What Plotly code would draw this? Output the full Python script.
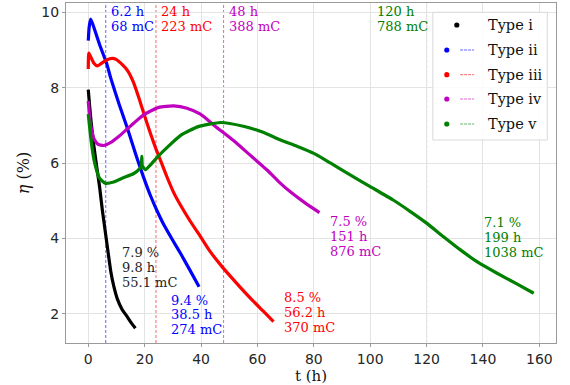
import plotly.graph_objects as go

# ---------------- data ----------------
t_i = [0, 0.5, 1, 2, 3, 4, 5, 6, 7, 8, 9, 10.3, 12, 13.8, 15.2, 16.7]
eta_i = [7.95, 7.5, 7.1, 6.45, 5.9, 5.38, 4.75, 4.2, 3.65, 3.12, 2.75, 2.4, 2.12, 1.93, 1.77, 1.62]

t_ii = [0, 0.3, 0.85, 2, 4, 6.5, 8, 11, 14, 17, 19.5, 22, 24.5, 27, 30, 33, 36, 39.3]
eta_ii = [9.25, 9.6, 9.82, 9.6, 9.15, 8.65, 8.25, 7.55, 6.9, 6.2, 5.65, 5.15, 4.72, 4.34, 3.95, 3.57, 3.17, 2.72]

t_iii = [0, 0.2, 1, 2, 3.2, 4.5, 6.5, 8.5, 10, 12, 14, 16, 18, 20, 22, 24, 26, 28, 30.3, 33, 36,
         39.8, 43, 47.5, 51, 54, 58, 62, 65.7]
eta_iii = [8.5, 8.92, 8.8, 8.65, 8.58, 8.64, 8.74, 8.78, 8.75, 8.62, 8.45, 8.15, 7.72, 7.25, 6.8, 6.38,
           6.0, 5.62, 5.22, 4.85, 4.48, 4.05, 3.68, 3.25, 2.95, 2.7, 2.38, 2.08, 1.8]

t_iv = [0, 0.5, 1, 2, 3.5, 5.5, 8, 11, 14, 16.1, 20, 25, 30.3, 35, 39.8, 45, 51.5, 57, 63.4, 68, 72, 77, 82]
eta_iv = [7.65, 7.2, 6.95, 6.65, 6.5, 6.47, 6.55, 6.72, 6.92, 7.06, 7.3, 7.48, 7.52, 7.46, 7.3, 6.98,
          6.6, 6.24, 5.82, 5.48, 5.22, 4.94, 4.69]

t_v = [0, 1, 2, 3, 4, 6, 9, 12, 16, 17.5, 18.7, 19.0, 19.2, 20.3, 22, 25, 28, 33, 39, 47, 55, 62, 68,
       74, 80, 86, 92, 100, 108, 114, 120, 126, 132, 138, 145, 152, 158]
eta_v = [7.3, 6.6, 6.1, 5.8, 5.6, 5.47, 5.5, 5.6, 5.72, 5.8, 5.9, 6.18, 5.92, 5.83, 5.95, 6.2, 6.42,
         6.75, 6.97, 7.08, 6.98, 6.82, 6.62, 6.45, 6.26, 6.0, 5.73, 5.38, 5.03, 4.73, 4.41, 4.05, 3.7,
         3.38, 3.08, 2.8, 2.55]

names = ["Type i", "Type ii", "Type iii", "Type iv", "Type v"]
colors = ["#000000", "#0000ff", "#ff0000", "#bf00bf", "#008000"]
series_t = [t_i, t_ii, t_iii, t_iv, t_v]
series_eta = [eta_i, eta_ii, eta_iii, eta_iv, eta_v]

# vertical markers (types ii..v)
vline_t = [6.2, 24, 48, 120]
vline_lines = [["6.2 h", "68 mC"], ["24 h", "223 mC"], ["48 h", "388 mC"], ["120 h", "788 mC"]]

# end-of-curve labels
end_lines = [
    ["7.9 %", "9.8 h", "55.1 mC"],
    ["9.4 %", "38.5 h", "274 mC"],
    ["8.5 %", "56.2 h", "370 mC"],
    ["7.5 %", "151 h", "876 mC"],
    ["7.1 %", "199 h", "1038 mC"],
]
end_pos = [(11.4, 3.63), (28.5, 2.37), (68.7, 2.43), (85.2, 4.45), (139.7, 4.43)]

X_RANGE = [-7.9, 165.9]
Y_RANGE = [1.23, 10.25]

SERIF = "DejaVu Serif"
SANS = "DejaVu Sans"

fig = go.Figure()
for name, c, t, e in zip(names, colors, series_t, series_eta):
    fig.add_trace(go.Scatter(x=t, y=e, mode="lines", name=name,
                             line=dict(color=c, width=3.2, shape="spline", smoothing=0.5),
                             showlegend=False))

# vertical dashed lines + top labels
for k, (tv, lines) in enumerate(zip(vline_t, vline_lines)):
    c = colors[k + 1]
    fig.add_shape(type="line", xref="x", yref="paper", x0=tv, x1=tv, y0=0, y1=1,
                  line=dict(color=c, width=1, dash="3px,2px"), opacity=0.6, layer="below")
    right = (k == 3)
    for j, txt in enumerate(lines):
        fig.add_annotation(x=101.7 if right else tv, y=10.02 - j * 0.39, xref="x", yref="y", text=txt,
                           showarrow=False, xanchor="left",
                           xshift=0 if right else 3, yanchor="middle",
                           font=dict(family=SERIF, size=13, color=c))

# end labels
LSP = 0.395
for k, (lines, (x0, y0)) in enumerate(zip(end_lines, end_pos)):
    c = "#222222" if k == 0 else colors[k]
    for j, txt in enumerate(lines):
        fig.add_annotation(x=x0, y=y0 - j * LSP, xref="x", yref="y", text=txt,
                           showarrow=False, xanchor="left", yanchor="middle",
                           font=dict(family=SERIF, size=13, color=c))

# manual legend (matplotlib style: dot + short dashed line)
W, H = 570, 385
L, R, T, B = 65.5, 556.0, 3.0, 343.0
def px(xp):
    return (xp - L) / (R - L)
def py(yp):
    return (B - yp) / (B - T)

fig.add_shape(type="rect", xref="paper", yref="paper", x0=px(432.7), x1=px(547.3),
              y0=py(140), y1=py(12.3), line=dict(color="#d9d9d9", width=1),
              fillcolor="rgba(255,255,255,0.85)")
leg_y = [25, 50, 74.7, 99, 124]
for k, (name, c, yy) in enumerate(zip(names, colors, leg_y)):
    cx = 456.7 if k == 0 else 446.7
    r = 2.6
    fig.add_shape(type="circle", xref="paper", yref="paper",
                  x0=px(cx - r), x1=px(cx + r), y0=py(yy + r), y1=py(yy - r),
                  line=dict(color=c, width=0), fillcolor=c)
    if k > 0:
        fig.add_shape(type="line", xref="paper", yref="paper",
                      x0=px(460), x1=px(474), y0=py(yy), y1=py(yy),
                      line=dict(color=c, width=1, dash="3px,1px"), opacity=0.6)
    fig.add_annotation(x=px(486), y=py(yy), xref="paper", yref="paper", text=name,
                       showarrow=False, xanchor="left", yanchor="middle",
                       font=dict(family=SERIF, size=14.5, color="#111111"))

axis_common = dict(showgrid=True, gridcolor="#e3e3e3", gridwidth=1,
                   showline=True, linecolor="#9a9a9a", linewidth=1, mirror=True,
                   ticks="outside", ticklen=3, tickcolor="#9a9a9a", zeroline=False,
                   tickfont=dict(family=SANS, size=14, color="#262626"))

fig.update_layout(
    width=W, height=H,
    margin=dict(l=L, r=W - R, t=T, b=H - B),
    plot_bgcolor="white", paper_bgcolor="white",
    xaxis=dict(range=X_RANGE, tickvals=[0, 20, 40, 60, 80, 100, 120, 140, 160],
               title=dict(text="t (h)", font=dict(family=SERIF, size=15, color="#111111"), standoff=2),
               **axis_common),
    yaxis=dict(range=Y_RANGE, tickvals=[2, 4, 6, 8, 10],
               title=dict(text="<i>η</i> (%)", font=dict(family=SERIF, size=16, color="#111111"), standoff=7),
               **axis_common),
    showlegend=False,
)

fig.write_html("out.html")
